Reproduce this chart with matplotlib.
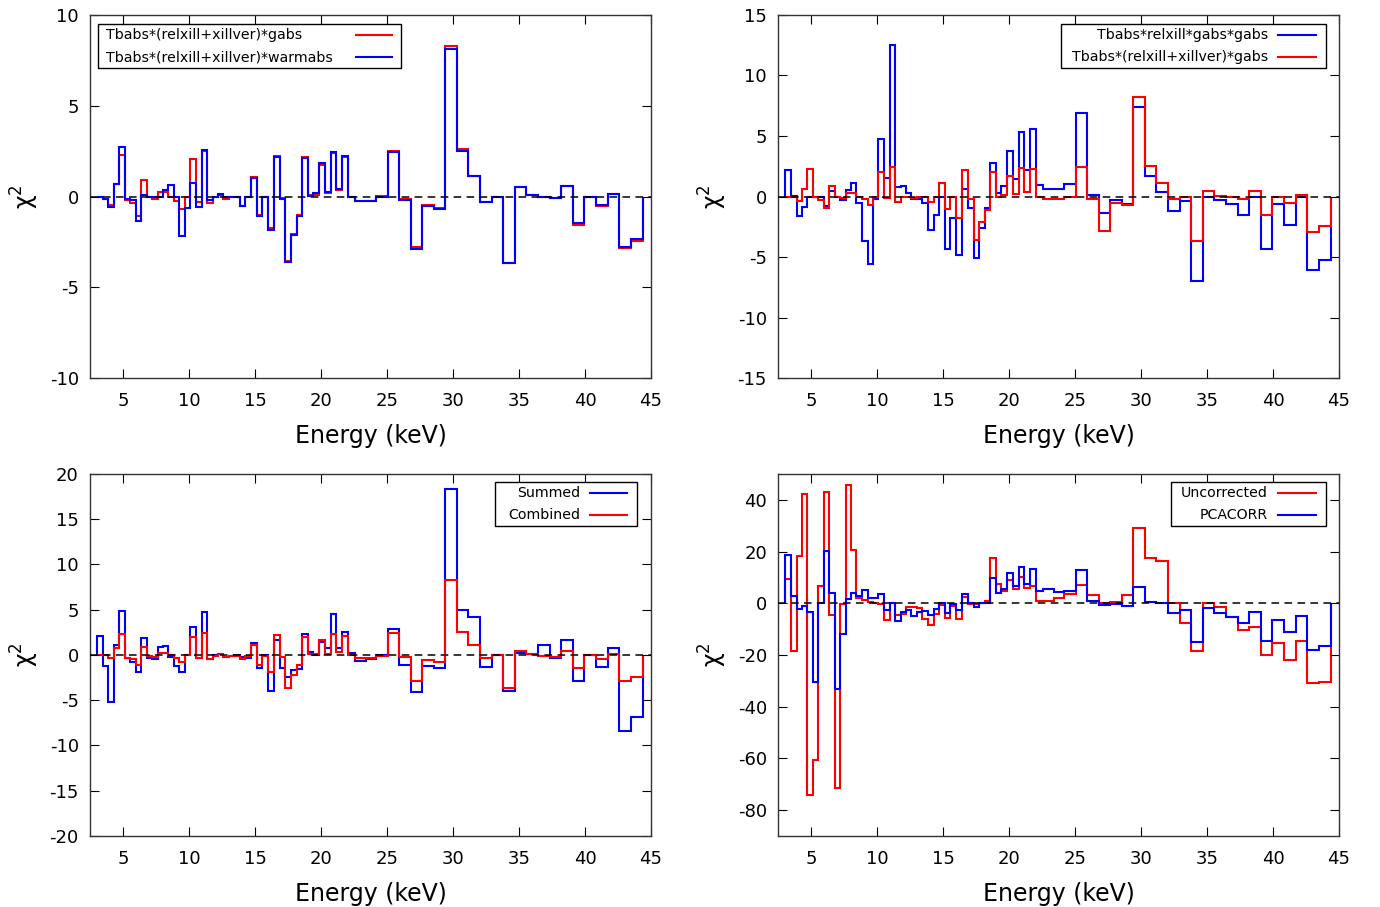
import matplotlib
matplotlib.use("Agg")
import matplotlib.pyplot as plt
from matplotlib.offsetbox import AnchoredOffsetbox, DrawingArea
from matplotlib.lines import Line2D
from matplotlib.text import Text

# energy bin edges (keV), same channel grid in every panel
edges = [3.06, 3.48, 3.90, 4.32, 4.72, 5.12, 5.54, 5.96, 6.38, 6.80,
         7.22, 7.64, 8.04, 8.44, 8.86, 9.28, 9.70, 10.10, 10.52, 10.96,
         11.38, 11.80, 12.20, 12.60, 13.02, 13.44, 13.86, 14.28, 14.72, 15.14,
         15.56, 15.98, 16.42, 16.87, 17.31, 17.73, 18.16, 18.59, 19.00, 19.42,
         19.86, 20.30, 20.73, 21.16, 21.58, 22.02, 22.60, 23.40, 24.20, 25.05,
         25.93, 26.79, 27.68, 28.56, 29.40, 30.28, 31.16, 32.05, 32.93, 33.76,
         34.70, 35.53, 36.46, 37.35, 38.16, 39.07, 39.92, 40.81, 41.72, 42.58,
         43.46, 44.37]

# top left
gabs = [0, -0.15, -0.45, 0.69, 2.3, -0.2, -0.35, -1.05, 0.9, -0.05,
        -0.15, 0.26, 0.26, -0.05, -0.25, -0.7, 0, 2.07, -0.28, 2.5,
        -0.35, 0, 0.1, -0.15, 0, 0, -0.5, 0, 1.1, -1.0,
        -0.05, -1.75, 2.25, -0.1, -3.55, -2.05, -1.0, 2.2, 0.1, 0.1,
        1.75, 0.2, 2.38, 0.35, 2.2, 0, -0.23, -0.23, 0.05, 2.5,
        -0.15, -2.8, -0.45, -0.65, 8.3, 2.6, 1.15, -0.28, 0, -3.65,
        0.54, 0.1, -0.05, -0.06, 0.58, -1.55, 0, -0.55, 0.13, -2.85,
        -2.45]
warmabs = [0, -0.15, -0.6, 0.69, 2.75, -0.15, -0.2, -1.33, 0.08, -0.05,
           0, 0, 0.36, 0.63, 0, -2.16, -0.63, 0.76, -0.6, 2.56,
           -0.19, 0, 0.13, -0.05, 0, 0, -0.5, -0.05, 1.0, -1.1,
           -0.05, -1.85, 2.2, -0.15, -3.6, -2.1, -1.07, 2.14, 0.03, 0.17,
           1.82, 0.23, 2.47, 0.41, 2.25, 0, -0.23, -0.23, 0, 2.47,
           -0.19, -2.9, -0.52, -0.7, 8.1, 2.5, 1.13, -0.28, 0, -3.65,
           0.54, 0.1, 0, -0.06, 0.58, -1.48, 0, -0.48, 0.13, -2.76,
           -2.32]

# top right
gabs_gabs = [2.19, 0.05, -1.61, -0.9, 0, 0, -0.05, -0.8, 0.48, -0.05,
             -0.3, 0.55, 1.15, -0.5, -3.65, -5.6, -0.2, 4.75, 1.56, 12.5,
             0.8, 0.85, 0.3, -0.2, -0.2, -0.55, -2.8, -1.53, 0, -4.34,
             -1.75, -4.83, 0.6, -0.92, -5.05, -2.58, -0.98, 2.74, 0.26, 0.9,
             3.79, 1.42, 5.35, 2.19, 5.55, 0.95, 0.6, 0.6, 1.04, 6.93,
             0.13, -1.33, -0.29, -0.65, 7.43, 1.7, 0.4, -1.17, -0.35, -6.98,
             0, -0.29, -0.62, -1.53, 0, -4.34, -0.62, -2.36, -0.07, -6.07,
             -5.25]
xillver_gabs = [0, -0.05, -0.35, 0.6, 2.27, -0.05, -0.33, -0.98, 0.9, -0.05,
                -0.1, 0.25, 0.25, -0.05, -0.2, -0.7, 0, 2.05, -0.15, 2.46,
                -0.45, 0, 0, -0.1, 0, 0, -0.45, 0, 1.09, -1.0,
                0, -1.75, 2.19, -0.18, -3.6, -2.08, -1.11, 2.05, 0, 0.12,
                1.7, 0.2, 2.38, 0.4, 2.24, 0, -0.23, -0.23, 0, 2.47,
                -0.18, -2.82, -0.51, -0.7, 8.25, 2.55, 1.14, -0.23, 0, -3.65,
                0.48, 0.07, 0, -0.18, 0.48, -1.53, 0, -0.51, 0.12, -2.9,
                -2.41]

# bottom left
summed = [2.14, -1.2, -5.15, 1.1, 4.86, -0.3, -0.74, -1.84, 1.9, -0.3,
          -0.48, 0.92, 1.03, -0.18, -1.2, -1.9, 0, 3.13, -0.3, 4.79,
          -0.44, 0, 0.11, -0.18, -0.07, 0, -0.18, -0.3, 1.29, -1.4,
          0, -3.98, 1.66, -1.4, -2.4, -1.66, -1.5, 2.32, 0.37, 0,
          1.4, 0.81, 4.49, 0.74, 2.58, 0.18, -0.63, -0.44, 0, 2.87,
          -1.1, -4.05, -1.2, -1.4, 18.34, 4.97, 4.24, -1.29, 0, -3.98,
          0.18, 0.07, 1.1, -0.3, 1.66, -2.87, 0, -1.29, 0.74, -8.4,
          -6.8]
combined = [0, 0, -0.37, 0.74, 2.28, -0.3, -0.48, -1.1, 0.92, -0.1,
            -0.18, 0.26, 0.26, 0, -0.3, -0.74, 0, 2.0, -0.3, 2.47,
            -0.44, -0.07, 0.07, -0.18, -0.07, -0.07, -0.44, -0.07, 1.1, -1.1,
            -0.07, -1.84, 2.2, -0.18, -3.6, -2.2, -1.1, 2.03, 0.07, 0.11,
            1.66, 0.11, 2.32, 0.37, 2.14, 0, -0.3, -0.3, -0.07, 2.47,
            -0.26, -2.87, -0.55, -0.74, 8.29, 2.58, 1.1, -0.3, 0, -3.68,
            0.44, 0.07, -0.1, -0.22, 0.44, -1.47, 0, -0.48, 0.11, -2.87,
            -2.4]

# bottom right
uncorrected = [9.4, -18.6, 18.2, 42.3, -74.0, -60.6, 6.8, 42.9, -4.7, -71.4,
               -0.4, 45.8, 20.5, 1.9, 1.3, 0.64, 0, -0.4, -6.4, 0,
               -4.5, -4.2, -1.3, -1.3, -1.9, -6.2, -8.3, -4.1, -0.6, -5.8,
               -0.9, -5.9, 2.4, -0.4, -0.4, 0.1, 0.9, 17.4, 7.6, 4.7,
               9.1, 5.6, 10.1, 6.0, 6.5, 0.9, 0.9, 2.1, 3.7, 7.2,
               3.1, 0.1, 0.5, 3.1, 29.2, 17.4, 16.3, 0, -7.8, -18.3,
               0, -1.4, -5.5, -10.4, -9.1, -20.0, -15.5, -21.9, -14.5, -30.9,
               -30.3]
pcacorr = [18.6, 2.8, -2.2, -0.9, -3.5, -30.4, 0, 20.1, 3.85, -33.3,
           -11.9, 1.67, 3.85, 2.8, 5.1, 1.9, 1.9, 3.5, -2.6, 0,
           -6.8, -3.2, -2.6, -5.1, -3.2, -2.9, -4.7, -2.2, 0, -3.6,
           -0.4, -2.6, 3.7, 0, -1.4, 0, 0.1, 9.7, 4.0, 5.4,
           11.7, 6.5, 14.0, 7.6, 13.3, 4.7, 5.4, 4.4, 4.7, 12.7,
           0.9, -0.8, -0.4, -1.2, 6.3, 0.5, 0, -3.7, -2.7, -14.9,
           -1.8, -3.7, -5.5, -7.8, -3.3, -14.5, -6.3, -11.0, -4.9, -18.1,
           -16.5]

RED = "#ff0000"
BLUE = "#0000ff"
PX = 0.72  # points per pixel at dpi 100

plt.rcParams["font.family"] = "DejaVu Sans"
plt.rcParams["mathtext.fontset"] = "dejavusans"
plt.rcParams["axes.unicode_minus"] = False
plt.rcParams["xtick.direction"] = "in"
plt.rcParams["ytick.direction"] = "in"
plt.rcParams["xtick.top"] = True
plt.rcParams["ytick.right"] = True
plt.rcParams["xtick.major.size"] = 6.5
plt.rcParams["ytick.major.size"] = 6.5
plt.rcParams["xtick.major.pad"] = 10
plt.rcParams["ytick.major.pad"] = 8
plt.rcParams["xtick.labelsize"] = 13
plt.rcParams["ytick.labelsize"] = 13
plt.rcParams["axes.labelsize"] = 17


def key(ax, entries, width, text_x, text_left, line_x, loc, anchor):
    h = 44
    da = DrawingArea(width * PX, h * PX)
    for i, (label, color) in enumerate(entries):
        y = (h - 11 - 22 * i) * PX
        da.add_artist(Text(text_x * PX, y, label, ha="left" if text_left else "right",
                           va="center", fontsize=10.2))
        da.add_artist(Line2D([line_x[0] * PX, line_x[1] * PX], [y, y], color=color, lw=1.5))
    box = AnchoredOffsetbox(loc=loc, child=da, pad=0, borderpad=0, frameon=True,
                            bbox_to_anchor=anchor, bbox_transform=ax.transAxes)
    box.patch.set_edgecolor("black")
    box.patch.set_linewidth(1.0)
    ax.add_artist(box)


def panel(ax, series, ylim, yticks):
    for vals, color in series:
        ax.stairs(vals, edges, color=color, lw=1.5)
    ax.axhline(0, color="black", lw=1.1, ls=(0, (5, 3.5)), zorder=3)
    ax.set_xlim(2.5, 45)
    ax.set_ylim(*ylim)
    ax.set_xticks(range(5, 50, 5))
    ax.set_yticks(yticks)
    ax.set_xlabel("Energy (keV)", labelpad=10)
    ax.set_ylabel(r"$\mathrm{\chi}^{2}$", labelpad=6)
    for s in ax.spines.values():
        s.set_color("#333333")
        s.set_linewidth(1.0)


fig = plt.figure(figsize=(13.8, 9.07), dpi=100)
ax1 = fig.add_axes([0.0652, 0.5832, 0.4065, 0.4003])
ax2 = fig.add_axes([0.5638, 0.5832, 0.4065, 0.4003])
ax3 = fig.add_axes([0.0652, 0.0783, 0.4065, 0.3991])
ax4 = fig.add_axes([0.5638, 0.0783, 0.4065, 0.3991])

panel(ax1, [(gabs, RED), (warmabs, BLUE)], (-10, 10), range(-10, 11, 5))
key(ax1, [("Tbabs*(relxill+xillver)*gabs", RED), ("Tbabs*(relxill+xillver)*warmabs", BLUE)],
    303, 8, True, (258, 294), "upper left", (0.0143, 0.975))

panel(ax2, [(gabs_gabs, BLUE), (xillver_gabs, RED)], (-15, 15), range(-15, 16, 5))
key(ax2, [("Tbabs*relxill*gabs*gabs", BLUE), ("Tbabs*(relxill+xillver)*gabs", RED)],
    265, 207, False, (217, 255), "upper right", (0.977, 0.975))

panel(ax3, [(summed, BLUE), (combined, RED)], (-20, 20), range(-20, 21, 5))
key(ax3, [("Summed", BLUE), ("Combined", RED)],
    142, 85, False, (95, 132), "upper right", (0.975, 0.978))

panel(ax4, [(uncorrected, RED), (pcacorr, BLUE)], (-90, 50), range(-80, 41, 20))
key(ax4, [("Uncorrected", RED), ("PCACORR", BLUE)],
    155, 97, False, (107, 145), "upper right", (0.977, 0.978))

fig.savefig("out.png", dpi=100)
